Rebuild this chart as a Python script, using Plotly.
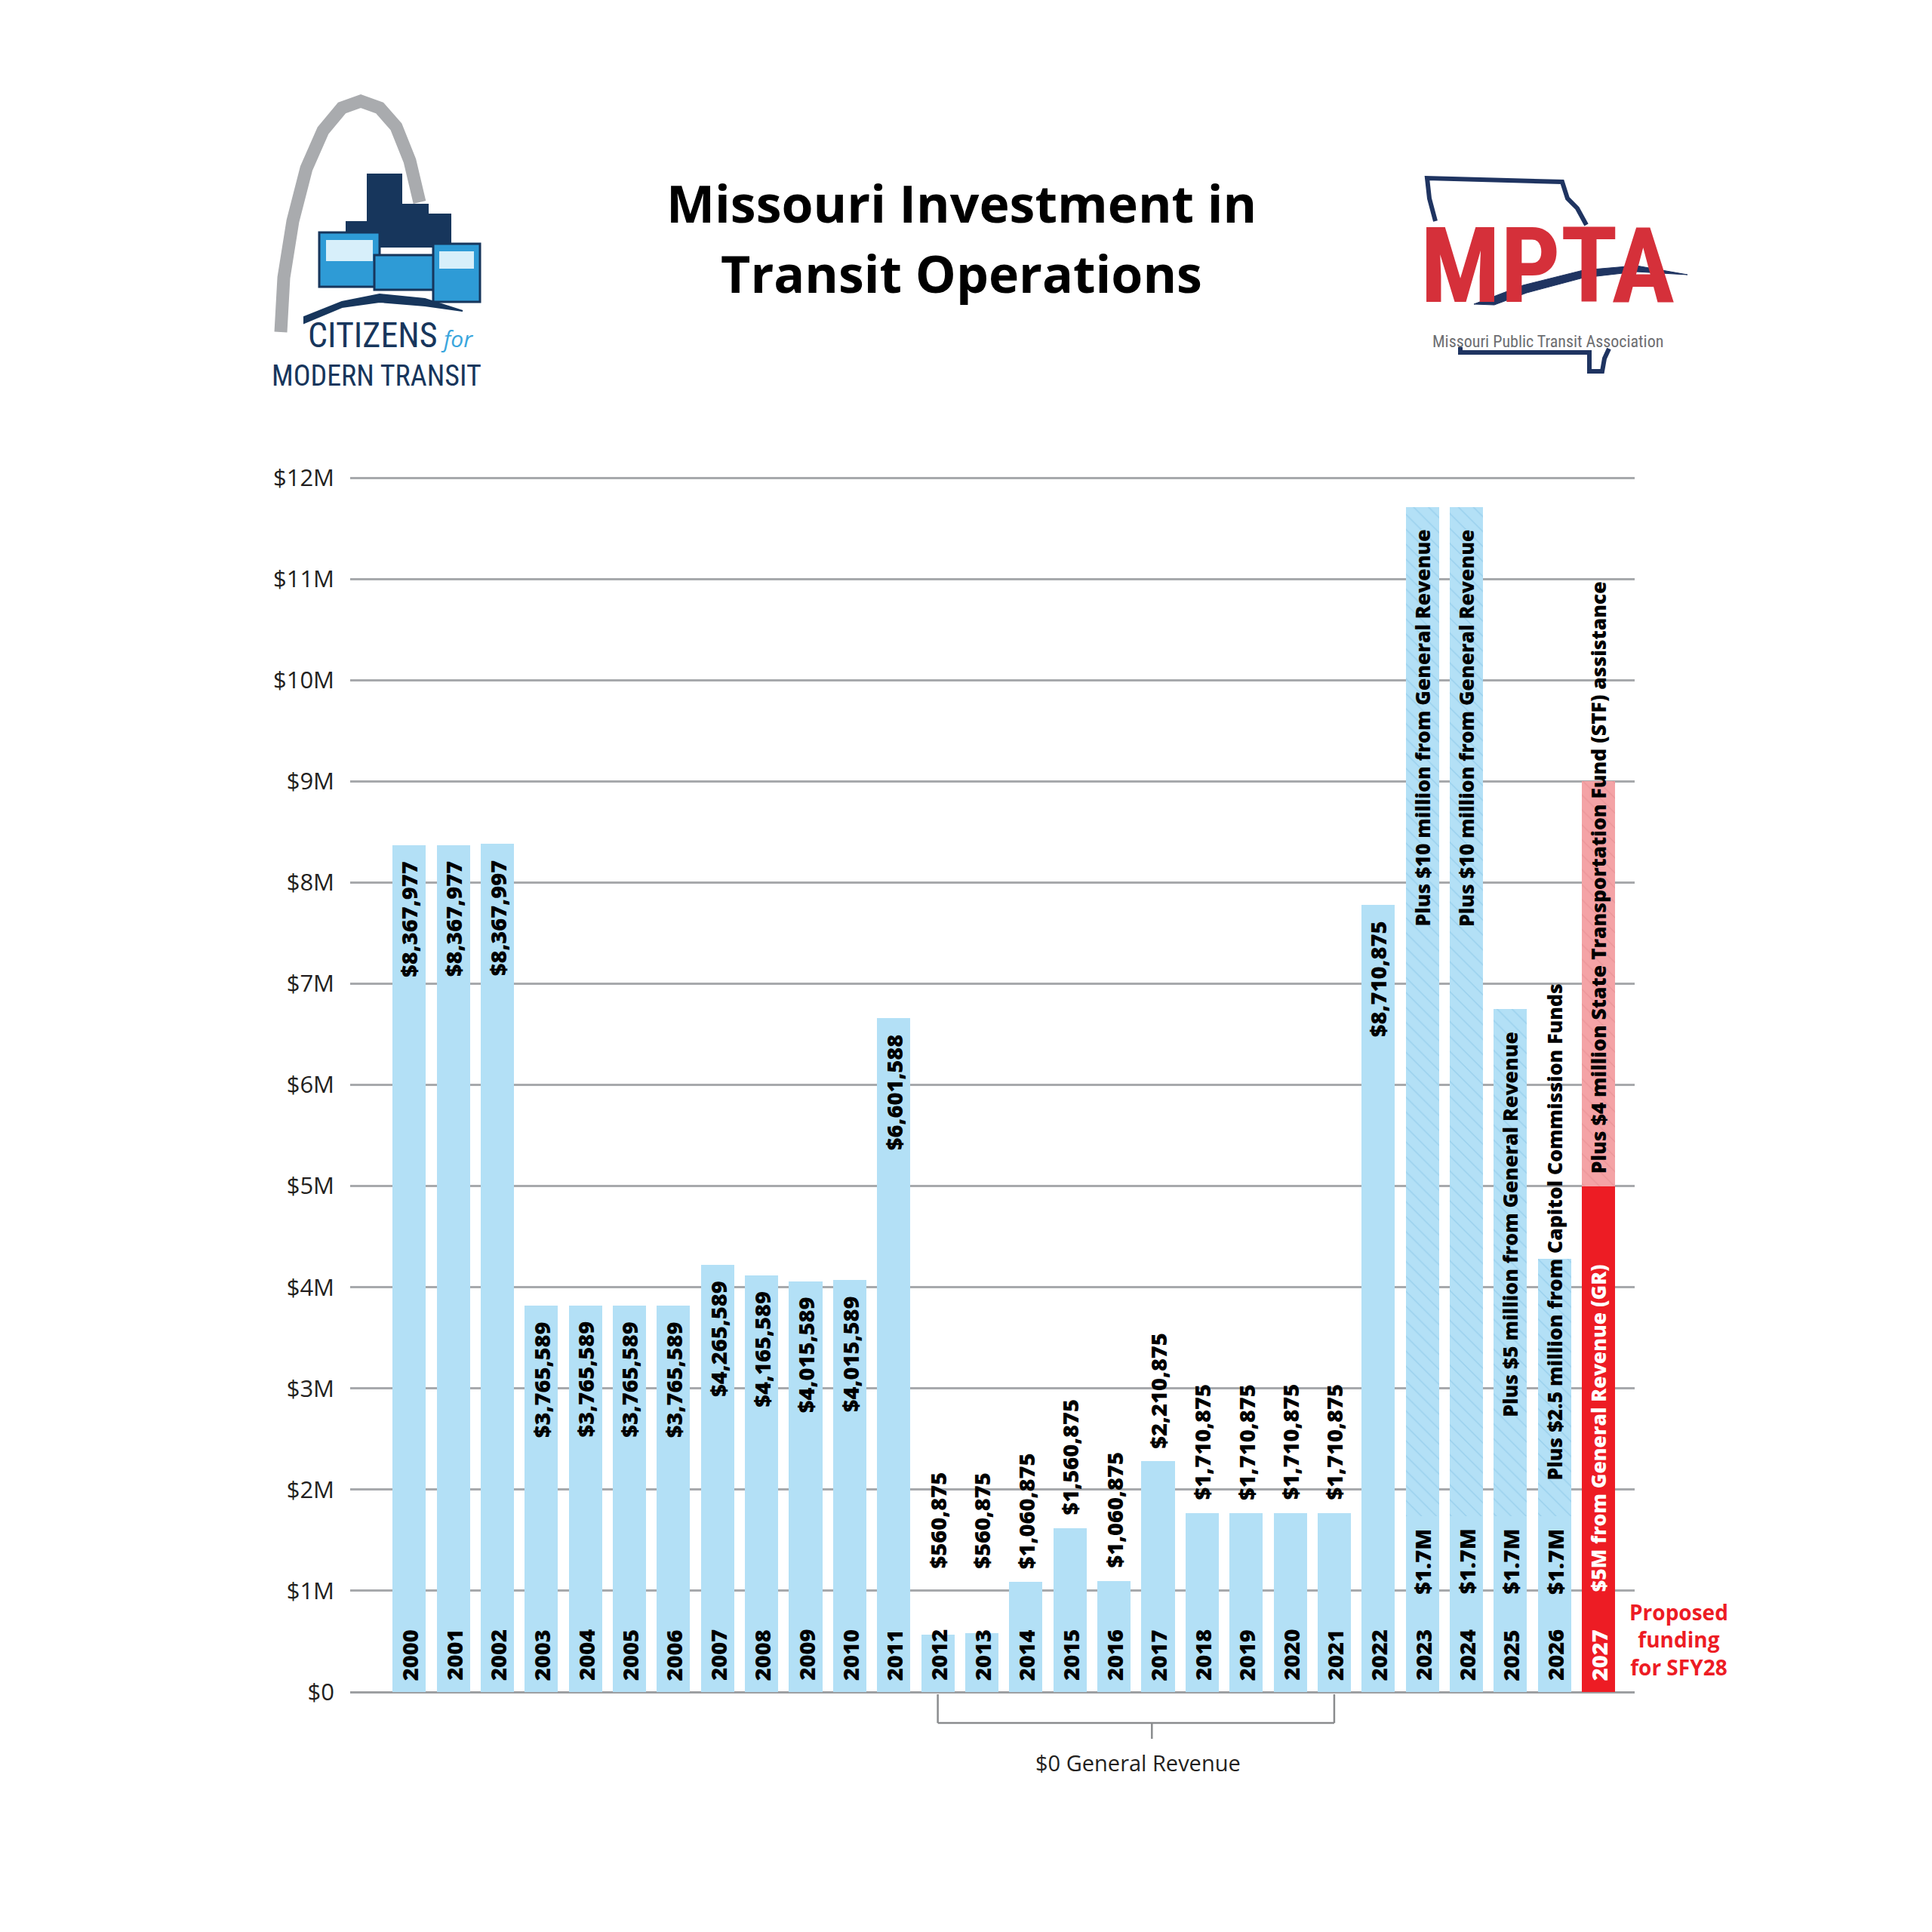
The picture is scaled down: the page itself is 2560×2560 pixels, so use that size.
import plotly.graph_objects as go

# ---------------- data ----------------
years = [str(y) for y in range(2000, 2028)]

base_years = years[:27]
base_values = [8.37e6, 8.37e6, 8.38e6, 3.82e6, 3.82e6, 3.82e6, 3.82e6, 4.22e6, 4.12e6,
               4.06e6, 4.07e6, 6.66e6, 0.57e6, 0.58e6, 1.09e6, 1.62e6, 1.10e6, 2.28e6,
               1.77e6, 1.77e6, 1.77e6, 1.77e6, 7.78e6, 1.74e6, 1.74e6, 1.74e6, 1.74e6]
value_labels = ["$8,367,977", "$8,367,977", "$8,367,997", "$3,765,589", "$3,765,589",
                "$3,765,589", "$3,765,589", "$4,265,589", "$4,165,589", "$4,015,589",
                "$4,015,589", "$6,601,588", "$560,875", "$560,875", "$1,060,875",
                "$1,560,875", "$1,060,875", "$2,210,875", "$1,710,875", "$1,710,875",
                "$1,710,875", "$1,710,875", "$8,710,875", "$1.7M", "$1.7M", "$1.7M", "$1.7M"]

extra_years = ["2023", "2024", "2025", "2026"]
extra_values = [9.97e6, 9.97e6, 5.01e6, 2.54e6]
extra_labels = ["Plus $10 million from General Revenue",
                "Plus $10 million from General Revenue",
                "Plus $5 million from General Revenue",
                "Plus $2.5 million from Capitol Commission Funds"]

proposed_years = ["2027"]
gr_values = [5.0e6]
gr_labels = ["$5M from General Revenue (GR)"]
stf_values = [4.0e6]
stf_labels = ["Plus $4 million State Transportation Fund (STF) assistance"]

y_tick_values = [0, 1e6, 2e6, 3e6, 4e6, 5e6, 6e6, 7e6, 8e6, 9e6, 10e6, 11e6, 12e6]
y_tick_labels = ["$0", "$1M", "$2M", "$3M", "$4M", "$5M", "$6M", "$7M", "$8M",
                 "$9M", "$10M", "$11M", "$12M"]

bracket_years = ["2012", "2021"]
bracket_label = "$0 General Revenue"
proposed_note = "Proposed<br>funding<br>for SFY28"
title_lines = ["Missouri Investment in", "Transit Operations"]

# ---------------- styling / geometry ----------------
W = H = 2560
L, R_EDGE = 456, 2158          # plot area x in px
T, B0 = 621, 2234              # plot area y in px
PW, PH = R_EDGE - L, B0 - T
Y_TOP = 12.03e6

BLUE = "#b3e0f6"
RED = "#ed1c24"
PINK = "#f4a3a6"
GRID = "#a7a9ac"
FONT = "Open Sans"
NARROW = "Liberation Sans Narrow, Roboto Condensed, DejaVu Sans Condensed, Roboto"
NAVY = "#17365c"


def PX(x):
    return (x - L) / PW


def PY(y):
    return (B0 - y) / PH


def idx(yr):
    return years.index(yr)


fig = go.Figure()
fig.add_trace(go.Bar(x=base_years, y=base_values, marker=dict(color=BLUE, line=dict(width=0)),
                     name="base", hoverinfo="skip"))
fig.add_trace(go.Bar(x=extra_years, y=extra_values,
                     marker=dict(color=BLUE, line=dict(width=0),
                                 pattern=dict(shape="\\", fgcolor="#86c4e6", fgopacity=0.6,
                                              size=14, solidity=0.1)),
                     name="extra", hoverinfo="skip"))
fig.add_trace(go.Bar(x=proposed_years, y=gr_values, marker=dict(color=RED, line=dict(width=0)),
                     name="gr", hoverinfo="skip"))
fig.add_trace(go.Bar(x=proposed_years, y=stf_values,
                     marker=dict(color=PINK, line=dict(width=0),
                                 pattern=dict(shape="\\", fgcolor="#e58c8f", fgopacity=0.6,
                                              size=14, solidity=0.1)),
                     name="stf", hoverinfo="skip"))

ann = []
lab_font = dict(family=FONT, size=29, color="black", weight=800)
phrase_size = 26.5


def bar_text(yr, y, text, anchor, shift, color="black", size=29):
    return dict(x=idx(yr), y=y, xref="x", yref="y", text=text, textangle=-90, showarrow=False,
                xanchor="center", yanchor=anchor, yshift=shift,
                font=dict(lab_font, color=color, size=size))


# year labels inside bars
for yr in years:
    ann.append(bar_text(yr, 0, yr, "bottom", 13, "white" if yr in proposed_years else "black"))

# value labels
n_plain = len(value_labels) - len(extra_years)
floor_v = base_values[idx("2014")]
for i, (yr, v, t) in enumerate(zip(base_years, base_values, value_labels)):
    if i >= n_plain:
        ann.append(bar_text(yr, v, t, "top", -15))
    elif v > 3e6:
        ann.append(bar_text(yr, v, t, "top", -19))
    else:
        ann.append(bar_text(yr, max(v, floor_v), t, "bottom", 15))

# additional funding labels
for yr, add, t in zip(extra_years, extra_values, extra_labels):
    b = base_values[idx(yr)]
    if add > 4e6:
        ann.append(bar_text(yr, b + add, t, "top", -28, size=phrase_size))
    else:
        ann.append(bar_text(yr, b, t, "bottom", 45, size=phrase_size))

# proposed year labels
ann.append(bar_text(proposed_years[0], 0, gr_labels[0], "bottom", 131, "white", size=phrase_size))
ann.append(bar_text(proposed_years[0], gr_values[0], stf_labels[0], "bottom", 14, size=phrase_size))
ann.append(dict(x=idx(proposed_years[0]), y=0, xref="x", yref="y", text=proposed_note,
                showarrow=False, xanchor="center", xshift=106, yanchor="bottom", yshift=12,
                font=dict(family=FONT, size=28, color=RED, weight="bold")))

# bracket label
i0, i1 = idx(bracket_years[0]), idx(bracket_years[1])
ann.append(dict(x=(i0 + i1) / 2 + 0.05, y=-93 / PH, xref="x", yref="paper", text=bracket_label,
                showarrow=False, xanchor="center", yanchor="middle",
                font=dict(family=FONT, size=29, color="#231f20")))

# title (two lines)
for txt, yc in zip(title_lines, (260, 353)):
    ann.append(dict(x=PX(1266), xref="paper", xanchor="center", y=PY(yc), yref="paper",
                    yanchor="middle", text=txt, showarrow=False,
                    font=dict(family=FONT, size=68, color="black", weight="bold")))


# logos (text approximations)
def logo_text(x, y, text, font, xa="center", ya="middle"):
    return dict(x=PX(x), y=PY(y), xref="paper", yref="paper", text=text, showarrow=False,
                xanchor=xa, yanchor=ya, font=font)


ann.append(logo_text(486, 465, "CITIZENS", dict(family=NARROW, size=46, color=NAVY), ya="bottom"))
ann.append(logo_text(574, 463, "<i>for</i>", dict(family=FONT, size=30, color="#3aa6dd"),
                     xa="left", ya="bottom"))
ann.append(logo_text(491, 466, "MODERN TRANSIT", dict(family=NARROW, size=38, color=NAVY), ya="top"))
ann.append(logo_text(2042, 428, "<b>MPTA</b>", dict(family=NARROW, size=140, color="#d5303a"),
                     ya="bottom"))
ann.append(logo_text(2043, 430, "Missouri Public Transit Association",
                     dict(family=NARROW, size=22, color="#6d6e71"), ya="top"))

shapes = []
# bracket
yb = -41 / PH
for i in (i0, i1):
    shapes.append(dict(type="line", xref="x", yref="paper", x0=i, x1=i, y0=-3 / PH, y1=yb,
                       line=dict(color="#8a8c8e", width=2.5)))
shapes.append(dict(type="line", xref="x", yref="paper", x0=i0, x1=i1, y0=yb, y1=yb,
                   line=dict(color="#8a8c8e", width=2.5)))
shapes.append(dict(type="line", xref="x", yref="paper", x0=16.86, x1=16.86, y0=yb, y1=-62 / PH,
                   line=dict(color="#8a8c8e", width=2.5)))


def path(points, close=False):
    s = "M " + " L ".join(f"{PX(x):.5f},{PY(y):.5f}" for x, y in points)
    return s + (" Z" if close else "")


def rect(x0, y0, x1, y1, fill, line=None, lw=0):
    return dict(type="rect", xref="paper", yref="paper", x0=PX(x0), x1=PX(x1), y0=PY(y1), y1=PY(y0),
                fillcolor=fill, line=dict(color=line or fill, width=lw), layer="above")


# arch
arch = [(364, 432), (368, 360), (380, 285), (398, 215), (420, 165), (445, 135), (470, 126),
        (495, 135), (517, 160), (535, 205), (548, 260)]
shapes.append(dict(type="path", xref="paper", yref="paper", path=path(arch),
                   line=dict(color="#a9abae", width=17), layer="above"))
# buildings
shapes += [rect(478, 222, 525, 320, NAVY), rect(508, 262, 560, 320, NAVY),
           rect(548, 275, 590, 320, NAVY), rect(450, 285, 482, 320, NAVY)]
# buses
shapes += [rect(415, 300, 495, 372, "#2e9bd6", NAVY, 3), rect(424, 310, 486, 338, "#d7effa"),
           rect(488, 330, 570, 376, "#2e9bd6", NAVY, 3), rect(566, 315, 628, 392, "#2e9bd6", NAVY, 3),
           rect(574, 325, 620, 348, "#d7effa")]
wave = [(395, 412), (445, 392), (495, 382), (555, 388), (605, 404), (555, 397), (495, 392),
        (445, 399), (395, 420)]
shapes.append(dict(type="path", xref="paper", yref="paper", path=path(wave, True),
                   fillcolor=NAVY, line=dict(color=NAVY, width=2), layer="above"))

# Missouri outline (parts not hidden by the lettering)
mo1 = [(1894, 285), (1886, 255), (1883, 228), (2062, 233), (2069, 255), (2082, 268), (2094, 290)]
mo2 = [(2124, 454), (2118, 467), (2115, 484), (2098, 484),
       (2098, 459), (1927, 459), (1927, 452)]
for seg in (mo1, mo2):
    shapes.append(dict(type="path", xref="paper", yref="paper", path=path(seg),
                       line=dict(color="#1f3461", width=6), layer="above"))
swoosh = [(1945, 395), (2010, 370), (2090, 350), (2160, 344), (2228, 356), (2160, 352), (2090, 360),
          (2015, 380), (1972, 396)]
shapes.append(dict(type="path", xref="paper", yref="paper", path=path(swoosh, True),
                   fillcolor="#1f3461", line=dict(color="#1f3461", width=1), layer="above"))

fig.update_layout(
    width=W, height=H, barmode="stack", bargap=0.245, showlegend=False,
    paper_bgcolor="white", plot_bgcolor="white",
    margin=dict(l=L, r=W - R_EDGE, t=T, b=H - B0, pad=0),
    annotations=ann, shapes=shapes,
    xaxis=dict(type="category", categoryorder="array", categoryarray=years,
               range=[-1.34, 27.82], showticklabels=False, showgrid=False, zeroline=False,
               ticks="", fixedrange=True),
    yaxis=dict(range=[0, Y_TOP], tickvals=y_tick_values, ticktext=y_tick_labels,
               showgrid=True, gridcolor=GRID, gridwidth=2.5, zeroline=True, zerolinecolor="#9d9fa2",
               zerolinewidth=3, ticks="", ticklabelstandoff=20,
               tickfont=dict(family=FONT, size=31, color="#231f20")),
)

fig.write_html("out.html")
